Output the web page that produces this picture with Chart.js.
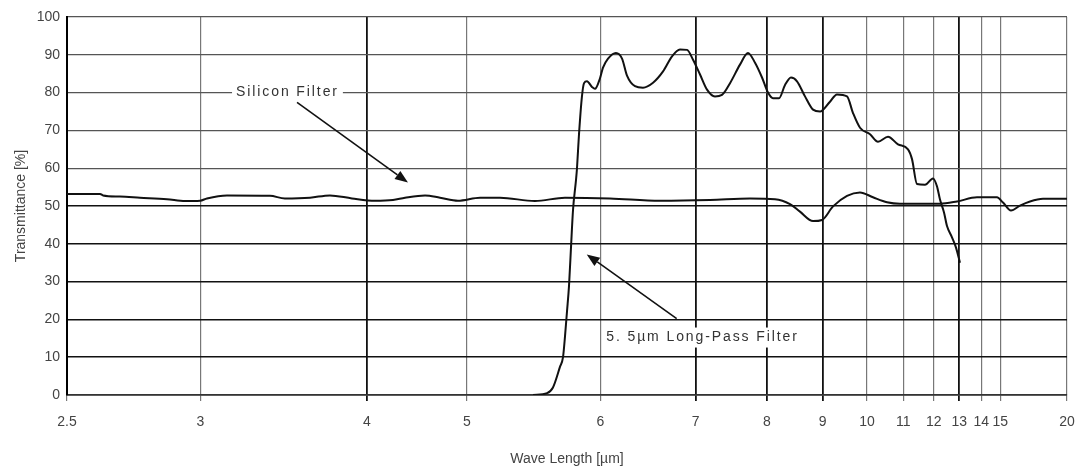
<!DOCTYPE html>
<html>
<head>
<meta charset="utf-8">
<script src="https://cdn.jsdelivr.net/npm/chart.js@4/dist/chart.umd.min.js"></script>
<style>
    body { margin: 0; background: #fff; }
    #wrap { width: 1079px; height: 470px; }
</style>
</head>
<body>
<div id="wrap"><canvas id="grafica" width="1079" height="470"></canvas></div>
<script>
// eje x: longitud de onda en um (escala lineal en numero de onda, cambio de escala en 2000 cm-1)
const xTicks = [2.5, 3, 4, 5, 6, 7, 8, 9, 10, 11, 12, 13, 14, 15, 20];
const yTicks = [0, 10, 20, 30, 40, 50, 60, 70, 80, 90, 100];

const siliconWl = [2.5, 2.608, 2.618, 2.677, 2.751, 2.857, 2.933, 2.999, 3.03, 3.125, 3.35, 3.436, 3.591, 3.724, 3.883,
    4.065, 4.219, 4.329, 4.525, 4.684, 4.89, 5.083, 5.215, 5.464, 5.698, 6.088, 6.59, 7.181, 7.737, 8.13, 8.386,
    8.565, 8.811, 8.989, 9.217, 9.524, 9.828, 10.152, 10.526, 10.899, 12.232, 12.903, 13.793, 14.815, 15.152,
    15.625, 16.194, 16.878, 17.857, 20];
const siliconT = [53.2, 53.2, 52.8, 52.5, 52.2, 51.8, 51.3, 51.4, 52, 52.8, 52.7, 52, 52.2, 52.8, 52,
    51.4, 51.6, 52.2, 52.8, 52.2, 51.4, 52.2, 52.2, 51.3, 52.2, 52, 51.4, 51.6, 52, 51.8, 50.5,
    48.5, 46, 46.3, 49.9, 52.7, 53.6, 52.3, 51, 50.6, 50.6, 51.2, 52.3, 52.3, 50.9,
    48.8, 50.1, 51.2, 51.9, 51.9];

const longPassWl = [5.45, 5.556, 5.602, 5.658, 5.682, 5.698, 5.714, 5.731, 5.747, 5.764, 5.789, 5.797, 5.814, 5.839,
    5.857, 5.882, 5.926, 5.952, 5.997, 6.024, 6.07, 6.144, 6.202, 6.25, 6.329, 6.41, 6.515, 6.623, 6.723, 6.814,
    6.897, 6.969, 7.055, 7.143, 7.246, 7.339, 7.449, 7.59, 7.707, 7.813, 7.921, 8.016, 8.097, 8.197, 8.299,
    8.403, 8.511, 8.658, 8.811, 8.949, 9.153, 9.302, 9.524, 9.662, 9.828, 10.076, 10.283, 10.554, 10.84,
    11.142, 11.268, 11.429, 11.696, 11.976, 12.121, 12.232, 12.384, 12.5, 12.698, 12.862, 13.029];
const longPassT = [0, 0.5, 2, 7.5, 10, 15.5, 22, 29, 39, 49, 57, 60, 69, 79,
    82.5, 83, 81.5, 81, 83.8, 86.6, 89, 90.5, 89, 84.5, 81.7, 81.3, 82.6, 85.6, 89.6, 91.4,
    91.3, 88.7, 84.8, 80.8, 79, 79.4, 82.5, 87.4, 90.5, 87.9, 84, 80, 78.5, 78.5, 82,
    84, 83, 79, 75.5, 75, 77.6, 79.5, 79, 74.6, 70.7, 69, 67, 68.3, 66.3,
    65, 62.4, 55.8, 55.6, 57.3, 55.2, 51.7, 48.3, 44.7, 41.7, 39, 35];

const FUENTE = '"Liberation Sans", Arial, sans-serif';
const ejesOscuros = [4, 7, 8, 9, 13];

// 4000-2000 cm-1 ocupa 40% del ancho, 2000-500 cm-1 el 60%
function aDecimal(um) {
    const wn = 10000 / um;
    const u = wn >= 2000 ? (4000 - wn) * 0.2 : 400 + (2000 - wn) * 0.4;
    return u / 1000;
}

function desdeDecimal(d) {
    const u = d * 1000;
    const wn = u <= 400 ? 4000 - 5 * u : 2000 - 2.5 * (u - 400);
    return 10000 / wn;
}

class EscalaOnda extends Chart.LinearScale {
    determineDataLimits() {
        this.min = xTicks[0];
        this.max = xTicks[xTicks.length - 1];
    }
    buildTicks() {
        return xTicks.map(v => ({ value: v }));
    }
    getPixelForValue(value) {
        return this.getPixelForDecimal(aDecimal(value));
    }
    getValueForPixel(pixel) {
        return desdeDecimal(this.getDecimalForPixel(pixel));
    }
}
EscalaOnda.id = 'onda';
EscalaOnda.defaults = Chart.LinearScale.defaults;
Chart.register(EscalaOnda);

function puntos(xs, ys) {
    return xs.map((x, i) => ({ x: x, y: ys[i] }));
}

function dibujarFlecha(ctx, x1, y1, x2, y2) {
    const ang = Math.atan2(y2 - y1, x2 - x1);
    const largo = 13, ancho = 5;
    const bx = x2 - largo * Math.cos(ang), by = y2 - largo * Math.sin(ang);
    ctx.beginPath();
    ctx.moveTo(x1, y1);
    ctx.lineTo(bx, by);
    ctx.lineWidth = 1.6;
    ctx.strokeStyle = '#111';
    ctx.stroke();
    ctx.beginPath();
    ctx.moveTo(x2, y2);
    ctx.lineTo(bx + ancho * Math.sin(ang), by - ancho * Math.cos(ang));
    ctx.lineTo(bx - ancho * Math.sin(ang), by + ancho * Math.cos(ang));
    ctx.closePath();
    ctx.fillStyle = '#111';
    ctx.fill();
}

function dibujarEtiqueta(ctx, texto, x, y) {
    ctx.font = '14px ' + FUENTE;
    ctx.letterSpacing = '1.9px';
    const w = ctx.measureText(texto).width;
    ctx.fillStyle = '#fff';
    ctx.fillRect(x - w / 2 - 4, y - 10, w + 8, 20);
    ctx.fillStyle = '#333';
    ctx.textAlign = 'center';
    ctx.textBaseline = 'middle';
    ctx.fillText(texto, x, y);
    ctx.letterSpacing = '0px';
}

const anotaciones = {
    id: 'anotaciones',
    afterDatasetsDraw(chart) {
        const ctx = chart.ctx;
        const sx = chart.scales.x, sy = chart.scales.y;
        ctx.save();
        dibujarEtiqueta(ctx, 'Silicon Filter', sx.getPixelForValue(3.451), sy.getPixelForValue(80));
        dibujarFlecha(ctx, sx.getPixelForValue(3.509), sy.getPixelForValue(77.4),
            sx.getPixelForValue(4.357), sy.getPixelForValue(56.2));
        dibujarEtiqueta(ctx, '5. 5µm Long-Pass Filter', sx.getPixelForValue(7.086), sy.getPixelForValue(15.2));
        dibujarFlecha(ctx, sx.getPixelForValue(6.776), sy.getPixelForValue(20.2),
            sx.getPixelForValue(5.88), sy.getPixelForValue(37.2));
        ctx.restore();
    }
};

function crearGrafica() {
    const ctx = document.getElementById('grafica').getContext('2d');
    new Chart(ctx, {
        type: 'line',
        data: {
            datasets: [{
                label: 'Silicon Filter',
                data: puntos(siliconWl, siliconT),
                borderColor: '#111',
                borderWidth: 2,
                pointRadius: 0,
                cubicInterpolationMode: 'monotone'
            }, {
                label: '5.5um Long-Pass Filter',
                data: puntos(longPassWl, longPassT),
                borderColor: '#111',
                borderWidth: 2,
                pointRadius: 0,
                cubicInterpolationMode: 'monotone'
            }]
        },
        options: {
            responsive: false,
            animation: false,
            layout: {
                padding: { top: 17, right: 12, left: 0, bottom: 0 }
            },
            scales: {
                x: {
                    type: 'onda',
                    afterFit: function(scale) {
                        scale.height = 75;
                        scale.paddingLeft = 0;
                        scale.paddingRight = 0;
                    },
                    border: { color: '#333', width: 1.5 },
                    grid: {
                        tickLength: 6,
                        color: function(c) {
                            return c.tick && ejesOscuros.includes(c.tick.value) ? '#111' : '#777';
                        },
                        lineWidth: function(c) {
                            return c.tick && ejesOscuros.includes(c.tick.value) ? 1.8 : 1.2;
                        }
                    },
                    ticks: {
                        autoSkip: false,
                        maxRotation: 0,
                        padding: 13,
                        color: '#444',
                        font: { family: FUENTE, size: 14 },
                        callback: function(v) { return String(v); }
                    },
                    title: {
                        display: true,
                        text: 'Wave Length [µm]',
                        color: '#444',
                        font: { family: FUENTE, size: 14 },
                        padding: { top: 0, bottom: 2 }
                    }
                },
                y: {
                    min: 0,
                    max: 100,
                    afterFit: function(scale) { scale.width = 67; },
                    afterBuildTicks: function(scale) {
                        scale.ticks = yTicks.map(v => ({ value: v }));
                    },
                    border: { color: '#000', width: 2 },
                    grid: {
                        drawTicks: false,
                        color: function(c) {
                            return c.tick && c.tick.value <= 50 ? '#111' : '#555';
                        },
                        lineWidth: function(c) {
                            return c.tick && c.tick.value <= 50 ? 1.6 : 1.3;
                        }
                    },
                    ticks: {
                        padding: 7,
                        color: '#444',
                        font: { family: FUENTE, size: 14 }
                    },
                    title: {
                        display: true,
                        text: 'Transmittance [%]',
                        color: '#444',
                        font: { family: FUENTE, size: 14 },
                        padding: { top: 13, bottom: 0 }
                    }
                }
            },
            plugins: {
                legend: { display: false },
                tooltip: { enabled: false }
            }
        },
        plugins: [anotaciones]
    });
}

crearGrafica();
</script>
</body>
</html>
